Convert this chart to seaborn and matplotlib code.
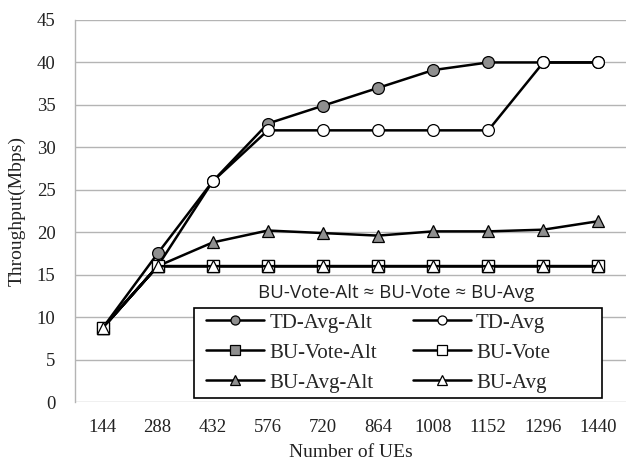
import matplotlib
matplotlib.use("Agg")
import matplotlib.pyplot as plt
import seaborn as sns
import pandas as pd
import numpy as np
from matplotlib.lines import Line2D
from matplotlib.patches import Rectangle

categories = ["144", "288", "432", "576", "720", "864", "1008", "1152", "1296", "1440"]
td_avg_alt = [8.7, 17.5, 26.0, 32.8, 34.9, 37.0, 39.1, 40.0, 40.0, 40.0]
td_avg = [8.7, 16.0, 26.0, 32.0, 32.0, 32.0, 32.0, 32.0, 40.0, 40.0]
bu_vote_alt = [8.7, 16.0, 16.0, 16.0, 16.0, 16.0, 16.0, 16.0, 16.0, 16.0]
bu_vote = [8.7, 16.0, 16.0, 16.0, 16.0, 16.0, 16.0, 16.0, 16.0, 16.0]
bu_avg_alt = [8.7, 16.0, 18.8, 20.2, 19.9, 19.6, 20.1, 20.1, 20.3, 21.3]
bu_avg = [8.7, 16.0, 16.0, 16.0, 16.0, 16.0, 16.0, 16.0, 16.0, 16.0]
y_ticks = [0, 5, 10, 15, 20, 25, 30, 35, 40, 45]

sns.set_style("white")
plt.rcParams["font.family"] = ["Liberation Serif", "DejaVu Serif"]

GRAY = "#8f8f8f"
series = [
    ("TD-Avg-Alt", td_avg_alt, "o", GRAY),
    ("BU-Vote-Alt", bu_vote_alt, "s", GRAY),
    ("BU-Avg-Alt", bu_avg_alt, "^", GRAY),
    ("TD-Avg", td_avg, "o", "white"),
    ("BU-Vote", bu_vote, "s", "white"),
    ("BU-Avg", bu_avg, "^", "white"),
]

W, H = 626, 461
L, R, T, B = 75, 626, 20, 402
fig = plt.figure(figsize=(W / 100, H / 100), dpi=100)
ax = fig.add_axes([L / W, 1 - B / H, (R - L) / W, (B - T) / H])

def ax_frac(px, py):
    return ((px - L) / (R - L), (B - py) / (B - T))

xpos = np.arange(len(categories))
for name, vals, mk, fc in series:
    df = pd.DataFrame({"x": xpos, "y": vals})
    sns.lineplot(data=df, x="x", y="y", ax=ax, color="black", linewidth=1.8,
                 marker=mk, markersize=8.5, markerfacecolor=fc,
                 markeredgecolor="black", markeredgewidth=0.9, label=name)

ax.set_xlim(-0.5, len(categories) - 0.5)
ax.set_ylim(0, 45)
ax.set_yticks(y_ticks)
ax.set_xticks(xpos)
ax.set_xticklabels(categories)
ax.tick_params(axis="both", labelsize=13.5, length=0, colors="#222222")
ax.tick_params(axis="x", pad=12)
ax.tick_params(axis="y", pad=14)
ax.grid(axis="y", color="#b4b4b4", linewidth=1.0)
ax.set_axisbelow(True)
for s in ["top", "right", "bottom"]:
    ax.spines[s].set_visible(False)
ax.spines["left"].set_color("#b4b4b4")
ax.spines["left"].set_linewidth(1.0)

ax.set_xlabel("Number of UEs", fontsize=14, color="#222222", labelpad=6)
ax.set_ylabel("Throughput(Mbps)", fontsize=14, color="#222222", labelpad=8)

handles, labels = ax.get_legend_handles_labels()
order = ["TD-Avg-Alt", "BU-Vote-Alt", "BU-Avg-Alt", "TD-Avg", "BU-Vote", "BU-Avg"]
hmap = dict(zip(labels, handles))
leg_handles = []
for name in order:
    h = hmap[name]
    leg_handles.append(Line2D([], [], color="black", linewidth=1.8, marker=h.get_marker(),
                              markersize=6.5, markerfacecolor=h.get_markerfacecolor(),
                              markeredgecolor="black", markeredgewidth=0.9))
leg = ax.legend(leg_handles, order, ncol=2, loc="upper left",
                bbox_to_anchor=ax_frac(206, 313),
                fontsize=15, frameon=False,
                handlelength=2.8, handletextpad=0.25,
                columnspacing=1.7, labelspacing=0.5, borderpad=0.0,
                borderaxespad=0)
leg.set_zorder(6)

x0, y0 = ax_frac(194, 398)
x1, y1 = ax_frac(602, 308)
ax.add_patch(Rectangle((x0, y0), x1 - x0, y1 - y0, transform=ax.transAxes,
                       facecolor="white", edgecolor="black", linewidth=1.2,
                       zorder=5, clip_on=False))

fig.text(396 / W, 1 - 293 / H, "BU-Vote-Alt \u2248 BU-Vote \u2248 BU-Avg",
         fontsize=13.5, family=["Open Sans", "DejaVu Sans"], color="#222222",
         ha="center", va="center")

fig.savefig("out.png", dpi=100)
